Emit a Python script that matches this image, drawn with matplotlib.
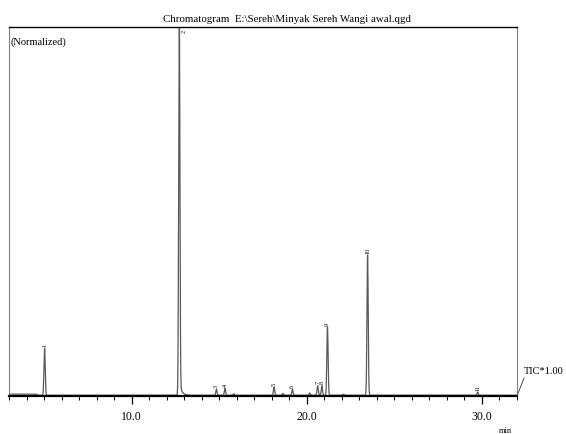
import matplotlib.pyplot as plt
import numpy as np
from matplotlib.lines import Line2D

# picos del cromatograma (tiempo de retencion en min, altura normalizada)
peak_rt = [5.03, 12.72, 14.84, 15.33, 15.83, 18.13, 18.63, 19.18, 20.17,
           20.62, 20.86, 21.18, 22.10, 23.47, 29.75]
peak_h = [0.128, 1.03, 0.016, 0.019, 0.004, 0.022, 0.005, 0.016, 0.006,
          0.026, 0.026, 0.186, 0.003, 0.381, 0.009]
peak_lbl = ['1', '2', '3', '4', '', '5', '', '6', '', '7', '8', '9', '', '10', '11']

major_ticks = [10.0, 20.0, 30.0]
major_lbls = ['10.0', '20.0', '30.0']
minor_ticks = list(range(3, 33))

titulo = 'Chromatogram  E:\\Sereh\\Minyak Sereh Wangi awal.qgd'

plt.rcParams['font.family'] = ['Liberation Serif', 'DejaVu Serif']

# señal TIC
t = np.linspace(3.0, 32.0, 8000)
y = np.zeros_like(t)
for rt, h in zip(peak_rt, peak_h):
    y += h * np.exp(-0.5 * ((t - rt) / 0.035) ** 2)
# cola del pico principal
cola = t > peak_rt[1]
y[cola] += 0.035 * np.exp(-(t[cola] - peak_rt[1]) / 0.13)
# linea base algo elevada al inicio
y += 0.003 * (t < 4.6)

fig = plt.figure(figsize=(5.66, 4.35), dpi=100)
ax = fig.add_axes([9 / 566, 1 - 397 / 435, (517 - 9) / 566, (397 - 28) / 435])

ax.plot(t, y, color='0.35', lw=0.9)
ax.set_xlim(3.0, 32.0)
ax.set_ylim(-0.002, 1.0)

for rt, h, lb in zip(peak_rt, peak_h, peak_lbl):
    if lb == '' or lb == '2':
        continue
    ax.text(rt, h + 0.006, lb, rotation=90, ha='center', va='bottom', fontsize=4.5)
ax.text(peak_rt[1] + 0.28, 0.995, '2', rotation=90, ha='center', va='top', fontsize=4.5)

ax.set_yticks([])
ax.set_xticks(major_ticks)
ax.set_xticklabels(major_lbls, fontsize=8.5)
ax.set_xticks(minor_ticks, minor=True)
ax.tick_params(axis='x', which='major', direction='out', length=6, width=0.9, pad=4)
ax.tick_params(axis='x', which='minor', direction='out', length=3, width=0.7)

ax.spines['bottom'].set_linewidth(1.6)
ax.spines['top'].set_linewidth(1.0)
ax.spines['left'].set_color('0.5')
ax.spines['right'].set_color('0.5')

ax.text(0.003, 0.975, '(Normalized)', transform=ax.transAxes, fontsize=7.5,
        ha='left', va='top')

fig.text(287 / 566, 1 - 20 / 435, titulo, fontsize=7.8, ha='center', va='center')
fig.text(505 / 566, 1 - 431 / 435, 'min', fontsize=6, ha='center', va='center')

# etiqueta TIC con linea diagonal
fig.add_artist(Line2D([517 / 566, 524 / 566], [1 - 397 / 435, 1 - 379 / 435],
                      color='0.3', lw=0.7))
fig.text(524 / 566, 1 - 372 / 435, 'TIC*1.00', fontsize=7.5, ha='left', va='center')

fig.savefig('out.png', dpi=100)
